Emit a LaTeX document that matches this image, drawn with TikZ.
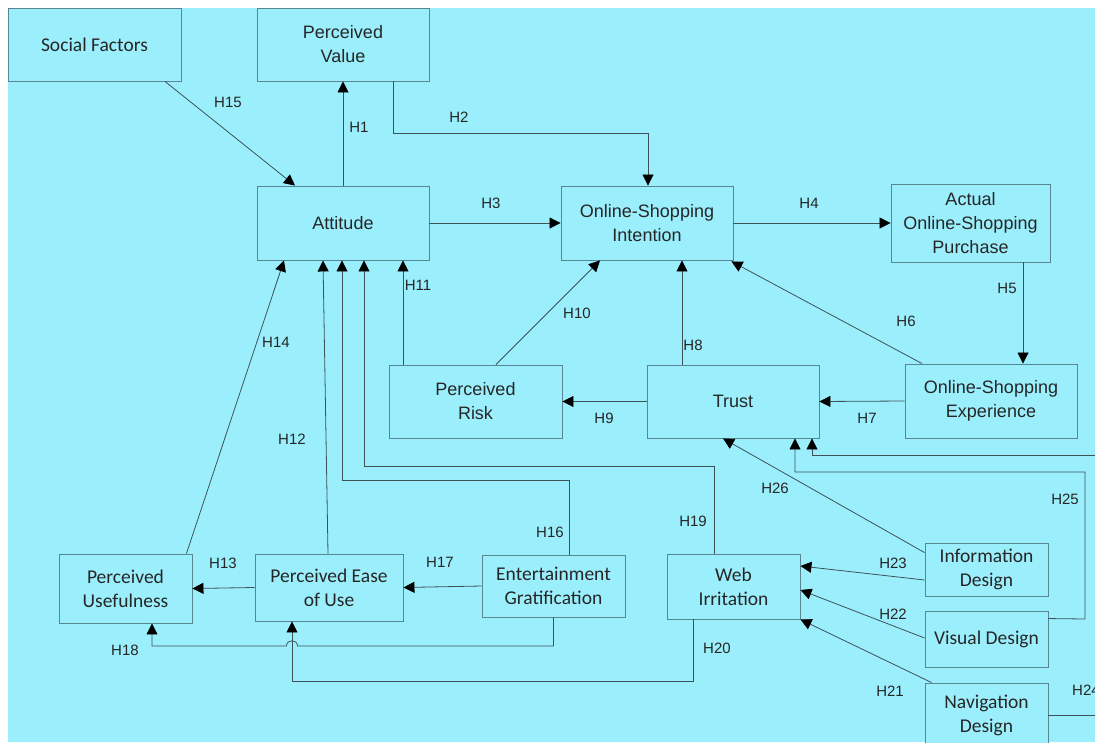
\documentclass[tikz,border=0pt]{standalone}
\usepackage{fontspec}
\setmainfont{Liberation Sans}
\newfontfamily\arialf{Liberation Sans}
\newfontfamily\carlito{Carlito}
\usetikzlibrary{arrows.meta,calc}
\definecolor{bg}{RGB}{155,239,252}
\definecolor{bdr}{RGB}{88,135,146}
\definecolor{ln}{RGB}{62,82,88}
\tikzset{
  box/.style={draw=bdr, line width=0.9pt, fill=bg, inner sep=0pt, align=center,
    font=\arialf\fontsize{18}{24}\selectfont, text=black!85},
  cbox/.style={box, font=\carlito\fontsize{19.5}{24}\selectfont},
  lab/.style={font=\arialf\fontsize{15}{18}\selectfont, inner sep=0pt, text=black!85},
  arr/.style={draw=ln, line width=0.8pt, -{Triangle[length=11pt,width=11pt,color=black]}},
  ln/.style={draw=ln, line width=0.8pt}
}
\begin{document}
\begin{tikzpicture}[x=1pt,y=-1pt]
\useasboundingbox (0,0) rectangle (1095,742);
\fill[white] (0,0) rectangle (1095,742);
\begin{scope}
\clip (0,0) rectangle (1095,742);
\fill[bg] (8,8) rectangle (1095,742);

% nodes
\node[cbox, minimum width=173pt, minimum height=73pt] (sf) at (94.5,44.5) {Social Factors};
\node[box, minimum width=172pt, minimum height=73pt] (pv) at (343,44.5) {Perceived\\Value};
\node[box, minimum width=172pt, minimum height=74pt] (att) at (343,223) {Attitude};
\node[box, minimum width=172pt, minimum height=74pt] (osi) at (647,223) {Online-Shopping\\Intention};
\node[box, minimum width=159pt, minimum height=78pt] (act) at (970.5,223) {Actual\\Online-Shopping\\Purchase};
\node[box, minimum width=173pt, minimum height=73pt] (pr) at (475.5,401.5) {Perceived\\Risk};
\node[box, minimum width=172pt, minimum height=73pt] (tr) at (733,401.5) {Trust};
\node[box, minimum width=172pt, minimum height=74pt] (ose) at (991,401) {Online-Shopping\\Experience};
\node[cbox, minimum width=133pt, minimum height=69pt] (pu) at (125.5,588.5) {Perceived\\Usefulness};
\node[cbox, minimum width=148pt, minimum height=67pt] (peou) at (329,587.5) {Perceived Ease\\of Use};
\node[cbox, minimum width=143pt, minimum height=62pt] (eg) at (553.5,586) {Entertainment\\Gratification};
\node[cbox, minimum width=133pt, minimum height=65pt] (wi) at (733.5,586.5) {Web\\Irritation};
\node[cbox, minimum width=123pt, minimum height=53pt] (id) at (986.5,569.5) {Information\\Design};
\node[cbox, minimum width=123pt, minimum height=56pt] (vd) at (986.5,639) {Visual Design};
\node[cbox, minimum width=123pt, minimum height=64pt] (nd) at (986.5,715) {Navigation\\Design};

% connectors
\draw[arr] ($(sf.south)+(70.5,0)$) -- ($(att.north)+(-48,0)$);
\draw[arr] (att.north) -- (pv.south);
\draw[arr] ($(pv.south)+(50,0)$) -- (393,133) -- (648,133) -- ($(osi.north)+(1,0)$);
\draw[arr] (att.east) -- (osi.west);
\draw[arr] (osi.east) -- (act.west);
\draw[arr] ($(act.south)+(52.5,0)$) -- ($(ose.north)+(32,0)$);
\draw[arr] ($(ose.north)+(-69,0)$) -- ($(osi.south east)+(-2,1)$);
\draw[arr] (ose.west) -- (tr.east);
\draw[arr] ($(tr.north)+(-51,0)$) -- ($(osi.south)+(35,0)$);
\draw[arr] (tr.west) -- (pr.east);
\draw[arr] ($(pr.north)+(20.5,0)$) -- ($(osi.south)+(-47,0)$);
\draw[arr] ($(pr.north)+(-72.5,0)$) -- ($(att.south)+(60,0)$);
\draw[arr] ($(peou.north)+(-1,0)$) -- ($(att.south)+(-20,0)$);
\draw[arr] ($(pu.north east)+(-6,0)$) -- ($(att.south)+(-59,0)$);
\draw[arr] (peou.west) -- (pu.east);
\draw[arr] (eg.west) -- (peou.east);
\draw[arr] ($(eg.north)+(15.5,0)$) -- (569,480) -- (342,480) -- ($(att.south)+(-1,0)$);
\draw[arr] ($(wi.north)+(-19.5,0)$) -- (714,466) -- (364,466) -- ($(att.south)+(21,0)$);
\draw[arr] (eg.south) -- (553.5,646) -- (297.5,646) .. controls (297.5,639) and (286.5,639) .. (286.5,646) -- (152,646) -- ($(pu.south)+(26.5,0)$);
\draw[arr] ($(wi.south)+(-40.5,0)$) -- (693,681) -- (292,681) -- ($(peou.south)+(-37,0)$);
\draw[arr] ($(nd.north west)+(7,0)$) -- (wi.south east);
\draw[arr] ($(vd.west)+(0,-1)$) -- ($(wi.east)+(0,3.5)$);
\draw[arr] ($(id.west)+(0,10.5)$) -- ($(wi.east)+(0,-20.5)$);
\draw[arr] ($(id.north west)+(0,10)$) -- ($(tr.south)+(-10,0)$);
\draw[arr] ($(vd.north east)+(0,8)$) -- (1085,619) -- (1085,472) -- (795,472) -- ($(tr.south)+(62,0)$);
\draw[arr] (nd.east) -- (1110,715) -- (1110,455) -- (812,455) -- ($(tr.south)+(79,0)$);

% labels
\node[lab] (l1) at (359,127) {H1};
\node[lab] (l2) at (459,117) {H2};
\node[lab] (l3) at (491,203) {H3};
\node[lab] (l4) at (809,203) {H4};
\node[lab] (l5) at (1007,288) {H5};
\node[lab] (l6) at (906,321) {H6};
\node[lab] (l7) at (867,418) {H7};
\node[lab] (l8) at (693,345) {H8};
\node[lab] (l9) at (604,418) {H9};
\node[lab] (l10) at (577,313) {H10};
\node[lab] (l11) at (418,285) {H11};
\node[lab] (l12) at (292,439) {H12};
\node[lab] (l13) at (223,563) {H13};
\node[lab] (l14) at (276,342) {H14};
\node[lab] (l15) at (228,102) {H15};
\node[lab] (l16) at (550,532) {H16};
\node[lab] (l17) at (440,562) {H17};
\node[lab] (l18) at (125,650) {H18};
\node[lab] (l19) at (693,521) {H19};
\node[lab] (l20) at (717,648) {H20};
\node[lab] (l21) at (890,691) {H21};
\node[lab] (l22) at (893,614) {H22};
\node[lab] (l23) at (893,563) {H23};
\node[lab, anchor=west] (l24) at (1072,690) {H24};
\node[lab] (l25) at (1065,499) {H25};
\node[lab] (l26) at (775,488) {H26};
\end{scope}
\end{tikzpicture}
\end{document}
